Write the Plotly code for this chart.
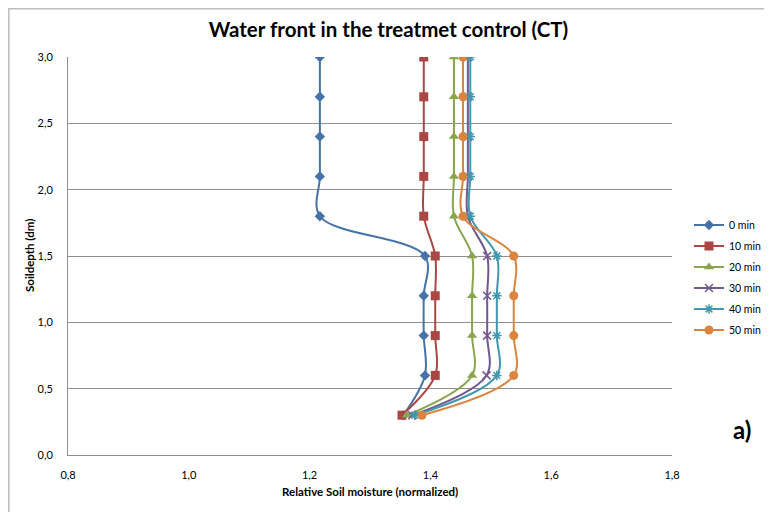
import plotly.graph_objects as go

depth = [0.3, 0.6, 0.9, 1.2, 1.5, 1.8, 2.1, 2.4, 2.7, 3.0]
m0 = [1.355, 1.391, 1.389, 1.389, 1.391, 1.217, 1.217, 1.217, 1.217, 1.217]
m10 = [1.353, 1.408, 1.408, 1.408, 1.408, 1.389, 1.389, 1.389, 1.389, 1.389]
m20 = [1.361, 1.469, 1.469, 1.469, 1.469, 1.439, 1.439, 1.439, 1.439, 1.439]
m30 = [1.370, 1.493, 1.494, 1.494, 1.494, 1.462, 1.462, 1.462, 1.462, 1.462]
m40 = [1.374, 1.510, 1.510, 1.510, 1.510, 1.466, 1.466, 1.466, 1.466, 1.466]
m50 = [1.386, 1.538, 1.538, 1.538, 1.538, 1.454, 1.454, 1.454, 1.454, 1.454]
names = ["0 min", "10 min", "20 min", "30 min", "40 min", "50 min"]
series = [m0, m10, m20, m30, m40, m50]
colors = ["#4572A7", "#AA4643", "#89A54E", "#71588F", "#4198AF", "#DB843D"]
symbols = ["diamond", "square", "triangle-up", "x-thin-open", "asterisk-open", "circle"]
msizes = [8, 9, 9, 8, 8, 9]

fig = go.Figure()
for i, (nm, xs) in enumerate(zip(names, series)):
    open_sym = symbols[i].endswith("open")
    fig.add_trace(go.Scatter(
        x=xs, y=depth, name=nm, mode="lines+markers",
        line=dict(color=colors[i], width=2, shape="spline", smoothing=1),
        marker=dict(symbol=symbols[i], size=msizes[i], color=colors[i],
                    line=dict(color=colors[i], width=1.5 if open_sym else 0)),
        legendgroup=nm,
    ))

# page body has an 8px margin: figure pixel = screen pixel - 8
grid = "#8f8f8f"
PL, PB, PW, PH = 68, 455, 604, 398  # plot area in screen pixels


def px(sx):
    return (sx - PL) / PW


def py(sy):
    return (PB - sy) / PH


fig.update_layout(
    width=764, height=504,
    margin=dict(l=60, r=100, t=49, b=57, autoexpand=False),
    paper_bgcolor="white", plot_bgcolor="white",
    separators=", ",
    font=dict(family="Lato, Open Sans, sans-serif", color="#000000", size=11),
    title=dict(text="<b>Water front in the treatmet control (CT)</b>",
               x=px(388.5), xref="paper", xanchor="center",
               y=1 - (30 - 8) / 504, yanchor="middle",
               font=dict(size=20.5, family="Lato, sans-serif", color="#000000")),
    xaxis=dict(range=[0.8, 1.8], dtick=0.2, tick0=0.8, tickformat=".1f",
               showgrid=False, showline=True, linecolor=grid, linewidth=1,
               zeroline=False, ticks="", ticklabelstandoff=10,
               tickfont=dict(size=11)),
    yaxis=dict(range=[0, 3.0], dtick=0.5, tickformat=".1f",
               showgrid=True, gridcolor=grid, gridwidth=1,
               showline=True, linecolor=grid, linewidth=1,
               zeroline=False, ticks="", ticklabelstandoff=12,
               tickfont=dict(size=11)),
    legend=dict(x=px(689), y=py(210.5), xanchor="left", yanchor="top",
                font=dict(size=10.5), bgcolor="rgba(0,0,0,0)",
                itemwidth=30, tracegroupgap=2),
    showlegend=True,
    annotations=[
        dict(text="<b>Relative Soil moisture (normalized)</b>", xref="paper", yref="paper",
             x=px(370), y=py(492), showarrow=False,
             xanchor="center", yanchor="middle", font=dict(size=11.5)),
        dict(text="<b>Soildepth (dm)</b>", xref="paper", yref="paper",
             x=px(29), y=py(256), showarrow=False, textangle=-90,
             xanchor="center", yanchor="middle", font=dict(size=11.5)),
        dict(text="<b>a)</b>", xref="paper", yref="paper",
             x=px(742), y=py(429), showarrow=False,
             xanchor="center", yanchor="middle", font=dict(size=24, family="Lato, sans-serif")),
    ],
    shapes=[
        dict(type="rect", xref="paper", yref="paper",
             x0=px(8.8), x1=px(770),
             y0=py(530), y1=py(8.8),
             line=dict(color="#bdbdbd", width=1.5), fillcolor="rgba(0,0,0,0)"),
    ],
)

fig.write_html("out.html")
